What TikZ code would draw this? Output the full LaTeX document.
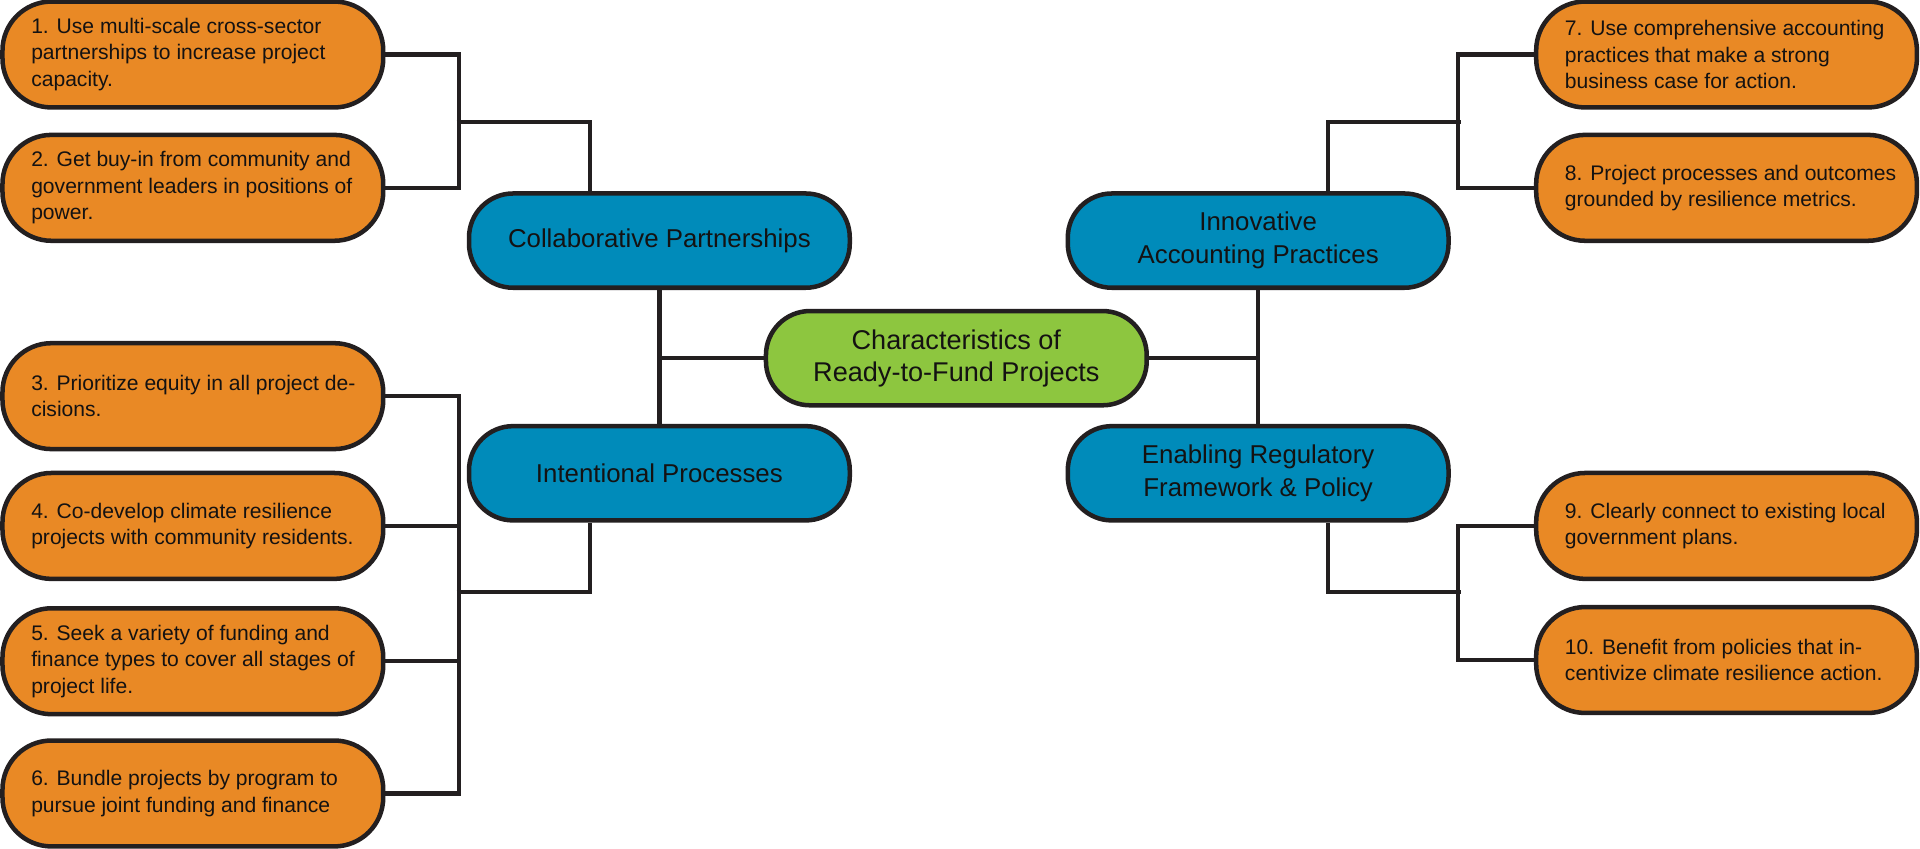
\documentclass[tikz,border=0pt]{standalone}
\usepackage{fontspec}
\setmainfont{Liberation Sans}
\usetikzlibrary{calc}
\definecolor{oranj}{RGB}{233,137,37}
\definecolor{bleu}{RGB}{0,139,186}
\definecolor{grn}{RGB}{141,198,63}
\definecolor{edge}{RGB}{35,31,32}
\definecolor{ink}{RGB}{20,18,18}
\newcommand{\obox}[3]{%
  \node[obox] (#1) at (#2) {};
  \node[otext] (#1t) at ($(#1.west)+(25,0)$) {#3};}
\begin{document}
\begin{tikzpicture}[x=0.02cm,y=-0.02cm,
  base/.style={draw=edge, line width=2.1pt, inner sep=0pt},
  obox/.style={base, fill=oranj, minimum width=6.22cm, minimum height=1.73cm, rounded corners=0.8cm},
  otext/.style={align=left, inner sep=0pt, text=ink, font=\fontsize{9.8pt}{12.3pt}\selectfont, anchor=west},
  bbox/.style={base, fill=bleu, minimum width=6.22cm, minimum height=1.54cm, rounded corners=0.72cm, align=center, text=ink, font=\fontsize{12pt}{15.3pt}\selectfont},
  gbox/.style={bbox, fill=grn, font=\fontsize{12.6pt}{14.8pt}\selectfont},
  link/.style={draw=edge, line width=2pt}]
\fill[white] (0,0) rectangle (1568,693);
\useasboundingbox (0,0) rectangle (1568,693);

% central and category nodes
\node[gbox] (core) at (781,292.5) {Characteristics of\\Ready-to-Fund Projects};
\node[bbox] (collab) at (538.5,196.5) {Collaborative Partnerships};
\node[bbox] (intent) at (538.5,386.5) {Intentional Processes};
\node[bbox] (innov) at (1027.5,196.5) {Innovative\\Accounting Practices};
\node[bbox] (enab) at (1027.5,386.5) {Enabling Regulatory\\Framework \& Policy};

% orange boxes
\obox{o1}{157.5,44.5}{1. Use multi-scale cross-sector\\partnerships to increase project\\capacity.}
\obox{o2}{157.5,153.4}{2. Get buy-in from community and\\government leaders in positions of\\power.}
\obox{o3}{157.5,323.5}{3. Prioritize equity in all project de-\\cisions.}
\obox{o4}{157.5,429.5}{4. Co-develop climate resilience\\projects with community residents.}
\obox{o5}{157.5,540}{5. Seek a variety of funding and\\finance types to cover all stages of\\project life.}
\obox{o6}{157.5,648}{6. Bundle projects by program to\\pursue joint funding and finance}
\obox{o7}{1410,44.5}{7. Use comprehensive accounting\\practices that make a strong\\business case for action.}
\obox{o8}{1410,153.4}{8. Project processes and outcomes\\grounded by resilience metrics.}
\obox{o9}{1410,429.5}{9. Clearly connect to existing local\\government plans.}
\obox{o10}{1410,539}{10. Benefit from policies that in-\\centivize climate resilience action.}

% junction coordinates
\coordinate (j1) at (373,99.5);
\coordinate (j2) at (1193,99.5);
\coordinate (j3) at (373,483.6);
\coordinate (j4) at (1193,483.6);

% center links
\draw[link] (collab.south) -- (intent.north);
\draw[link] (innov.south) -- (enab.north);
\draw[link] (core.west) -- (core.west -| collab.south);
\draw[link] (core.east) -- (core.east -| innov.south);

% left top
\draw[link] (o1.east) -- ++(60,0) |- (o2.east);
\draw[link] (j1) -| ($(collab.north)+(-56.5,0)$);
% left bottom
\draw[link] (o3.east) -- ++(60,0) |- (o6.east);
\draw[link] (o4.east) -- ++(60,0);
\draw[link] (o5.east) -- ++(60,0);
\draw[link] (j3) -| ($(intent.south)+(-56.5,0)$);
% right top
\draw[link] (o7.west) -- ++(-62,0) |- (o8.west);
\draw[link] (j2) -| ($(innov.north)+(57,0)$);
% right bottom
\draw[link] (o9.west) -- ++(-62,0) |- (o10.west);
\draw[link] (j4) -| ($(enab.south)+(57,0)$);
\end{tikzpicture}
\end{document}
